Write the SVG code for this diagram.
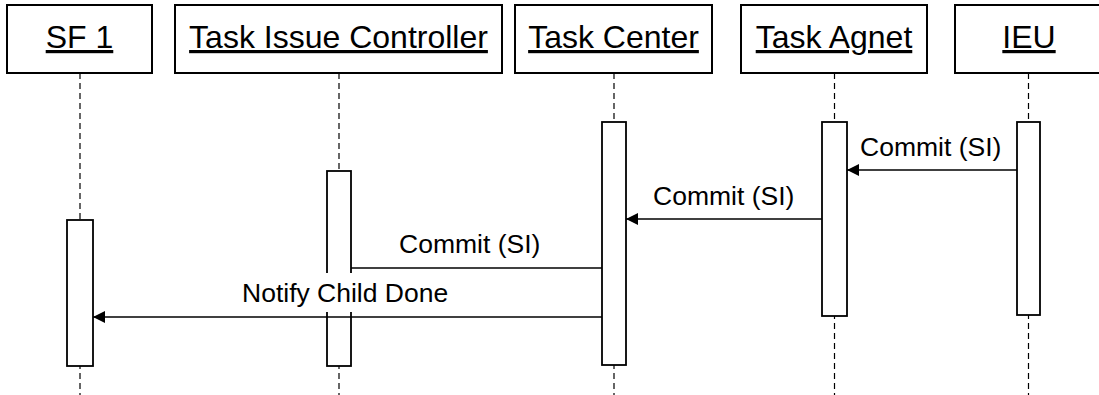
<svg xmlns="http://www.w3.org/2000/svg" width="1099" height="395" viewBox="0 0 1099 395">
  <style>
    .head { fill: #fff; stroke: #000; stroke-width: 2; }
    .head-label { font-family: "Liberation Sans", Arial, sans-serif; font-size: 32px; text-anchor: middle; text-decoration: underline; fill: #000; }
    .lifeline { stroke: #000; stroke-width: 1.2; stroke-dasharray: 6 4; fill: none; }
    .act { fill: #fff; stroke: #000; stroke-width: 1.8; }
    .msg { stroke: #000; stroke-width: 1.6; fill: none; }
    .msg-label { font-family: "Liberation Sans", Arial, sans-serif; font-size: 26.5px; fill: #000; }
    .label-bg { fill: #fff; stroke: none; }
  </style>
  <defs>
    <marker id="arrow" viewBox="0 0 12 12" refX="12" refY="6" markerWidth="12" markerHeight="12" markerUnits="userSpaceOnUse" orient="auto">
      <path d="M0,0 L12,6 L0,12 Z" fill="#000"/>
    </marker>
  </defs>
  <rect width="1099" height="395" fill="#fff"/>

  <!-- participants: head box, dashed lifeline, activation bar -->
  <g id="sf1">
    <rect class="head" x="7" y="5" width="145" height="68"/>
    <text class="head-label" x="79.5" y="48">SF 1</text>
    <line class="lifeline" x1="80" y1="73" x2="80" y2="395"/>
    <rect class="act" x="67" y="220" width="26" height="146"/>
  </g>
  <g id="task-issue-controller">
    <rect class="head" x="175" y="5" width="327" height="68"/>
    <text class="head-label" x="338.5" y="48">Task Issue Controller</text>
    <line class="lifeline" x1="339" y1="73" x2="339" y2="395"/>
    <rect class="act" x="327" y="171" width="24" height="195"/>
  </g>
  <g id="task-center">
    <rect class="head" x="515" y="5" width="197" height="68"/>
    <text class="head-label" x="613.5" y="48">Task Center</text>
    <line class="lifeline" x1="614" y1="73" x2="614" y2="395"/>
    <rect class="act" x="602" y="122" width="24" height="243"/>
  </g>
  <g id="task-agnet">
    <rect class="head" x="741" y="5" width="186" height="68"/>
    <text class="head-label" x="834" y="48">Task Agnet</text>
    <line class="lifeline" x1="834.5" y1="73" x2="834.5" y2="395"/>
    <rect class="act" x="822" y="122" width="25" height="194"/>
  </g>
  <g id="ieu">
    <rect class="head" x="955" y="5" width="150" height="68"/>
    <text class="head-label" x="1029" y="48">IEU</text>
    <line class="lifeline" x1="1028.5" y1="73" x2="1028.5" y2="395"/>
    <rect class="act" x="1017" y="122" width="23" height="193"/>
  </g>

  <!-- messages -->
  <g id="messages">
    <line class="msg" x1="1017" y1="170" x2="847" y2="170" marker-end="url(#arrow)"/>
    <text class="msg-label" x="860" y="156">Commit (SI)</text>

    <line class="msg" x1="822" y1="219" x2="626" y2="219" marker-end="url(#arrow)"/>
    <text class="msg-label" x="653" y="205">Commit (SI)</text>

    <line class="msg" x1="602" y1="268" x2="351" y2="268"/>
    <text class="msg-label" x="399" y="253">Commit (SI)</text>

    <!-- label background hides the activation bar it crosses -->
    <rect class="label-bg" x="240" y="273" width="214" height="39"/>
    <line class="msg" x1="602" y1="317" x2="93" y2="317" marker-end="url(#arrow)"/>
    <text class="msg-label" x="242" y="302">Notify Child Done</text>
  </g>
</svg>
